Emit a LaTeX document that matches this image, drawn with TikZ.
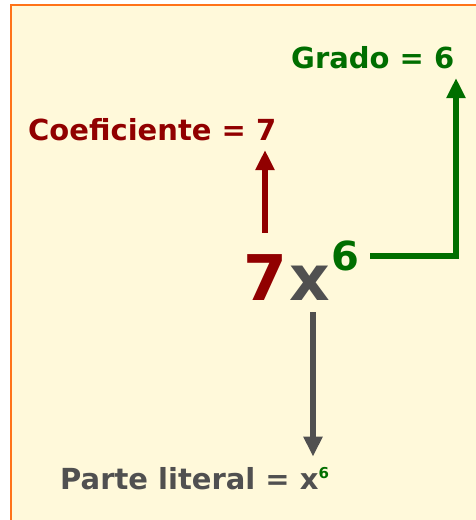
\documentclass[tikz,border=0pt]{standalone}
\usepackage{fontspec}
\setmainfont{DejaVu Sans}
\usetikzlibrary{arrows.meta}

\definecolor{coefred}{RGB}{145,0,0}
\definecolor{gradogreen}{RGB}{0,110,0}
\definecolor{litgray}{RGB}{80,80,80}
\definecolor{paper}{RGB}{255,249,218}
\definecolor{framecol}{RGB}{255,115,25}

\begin{document}
\begin{tikzpicture}[x=1pt, y=-1pt, >={Triangle[length=20pt, width=18pt]},
  every node/.style={inner sep=0pt, font=\bfseries},
  label/.style={anchor=base west, font=\fontsize{29}{34}\selectfont\bfseries},
  term/.style={anchor=base, font=\fontsize{63}{70}\selectfont\bfseries},
  conn/.style={line width=5.5pt}]
  \useasboundingbox (0,0) rectangle (476,520);
  \clip (0,0) rectangle (476,520);
  \fill[white] (0,0) rectangle (476,520);
  \filldraw[fill=paper, draw=framecol, line width=2pt] (11,5) rectangle (490,535);

  % labels
  \node[label, text=gradogreen] (grado) at (291,68) {Grado = 6};
  \node[label, text=coefred] (coef) at (28,140) {Coeficiente = 7};
  \node[label, text=litgray] (parte) at (60,489)
    {Parte literal = x\raisebox{11pt}{\fontsize{15}{15}\selectfont\color{gradogreen}6}};

  % the term 7x^6
  \node[term, text=coefred] (seven) at (265,300) {7};
  \node[term, text=litgray] (xvar) at (310,300) {x};
  \node[anchor=base, text=gradogreen, font=\fontsize{40}{44}\selectfont\bfseries] (six) at (345,270) {6};
  \coordinate (gcorner) at (456,256);

  % connectors
  \draw[conn, coefred, ->, shorten <=21pt, shorten >=10pt] (seven.north) -- (seven.north |- coef.base);
  \draw[conn, gradogreen, ->, shorten >=10pt] ([xshift=11pt]six.east |- gcorner) -- (gcorner) -- (gcorner |- grado.base);
  \draw[conn, litgray, ->, shorten <=12pt, shorten >=10pt] ([xshift=3pt]xvar.south) -- ([xshift=3pt]xvar.south |- parte.north);
\end{tikzpicture}
\end{document}
